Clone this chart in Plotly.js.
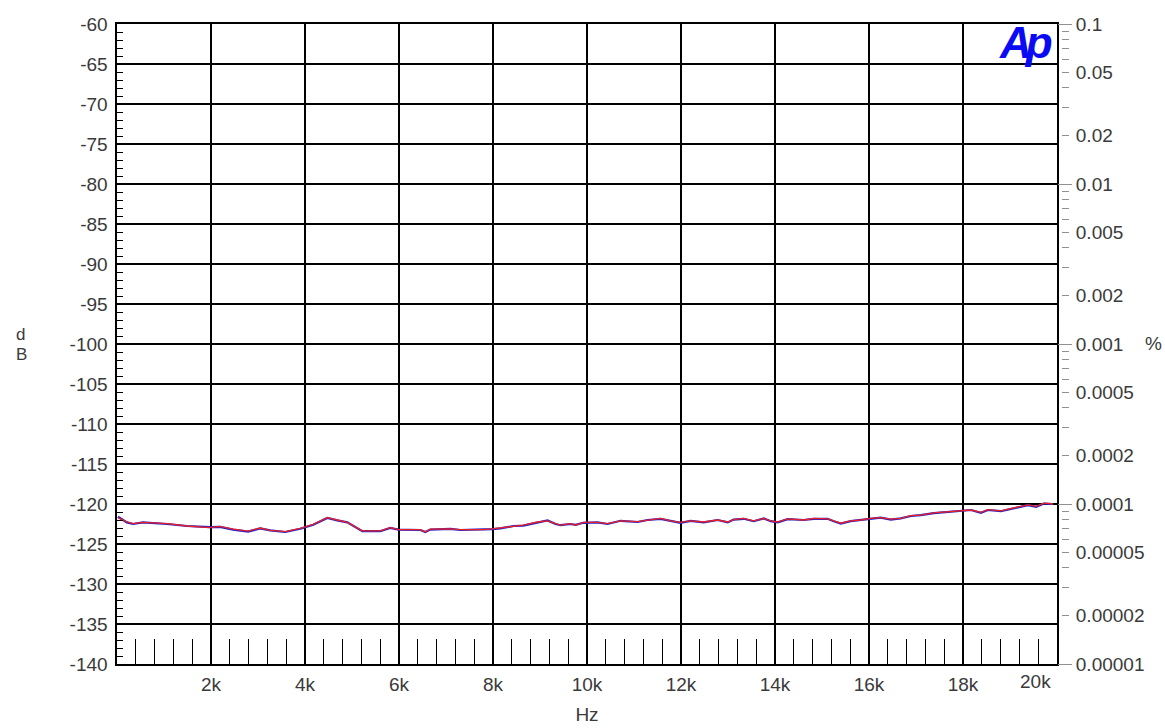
<!DOCTYPE html>
<html>
<head>
<meta charset="utf-8">
<script src="https://cdn.plot.ly/plotly-3.0.1.min.js"></script>
<style>
  html, body { margin: 0; padding: 0; background: #ffffff; }
  #chart { width: 1165px; height: 728px; }
</style>
</head>
<body>
<div id="chart"></div>
<script>
// THD+N sweep, two channels, 20 Hz - 20 kHz
const freqHz = [20, 210, 340, 550, 1065, 1490, 1980, 2190, 2470, 2790, 3045, 3260, 3580, 3900,
  4175, 4475, 4685, 4900, 5220, 5600, 5815, 5985, 6455, 6560, 6665, 7095, 7305, 7795, 7985,
  8160, 8435, 8645, 8945, 9160, 9330, 9435, 9650, 9755, 9925, 10225, 10435, 10715, 11075,
  11290, 11565, 11780, 11990, 12205, 12480, 12780, 12995, 13120, 13335, 13545, 13760, 13910,
  14060, 14270, 14610, 14825, 15120, 15250, 15400, 15610, 15825, 16040, 16250, 16465, 16675,
  16890, 17100, 17380, 17740, 17955, 18170, 18380, 18530, 18805, 19085, 19380, 19555, 19725, 19915];

const redDb = [-121.7, -122.25, -122.45, -122.3, -122.45, -122.75, -122.95, -122.8, -123.15, -123.4,
  -123.0, -123.3, -123.45, -123.05, -122.55, -121.7, -122.0, -122.3, -123.35, -123.35, -122.95,
  -123.2, -123.2, -123.5, -123.15, -123.1, -123.2, -123.2, -123.1, -123.0, -122.75, -122.65,
  -122.25, -122.1, -122.45, -122.65, -122.45, -122.65, -122.3, -122.3, -122.45, -122.1, -122.2,
  -122.0, -121.8, -122.1, -122.3, -122.1, -122.25, -122.0, -122.25, -121.95, -121.8, -122.1,
  -121.8, -122.1, -122.25, -121.85, -122.0, -121.8, -121.85, -122.1, -122.4, -122.1, -122.0,
  -121.8, -121.7, -121.9, -121.8, -121.45, -121.4, -121.1, -120.95, -120.8, -120.75, -121.05,
  -120.7, -120.85, -120.5, -120.1, -120.3, -119.9, -120.0];

const blueDb = [-121.6, -122.3, -122.5, -122.3, -122.5, -122.75, -122.9, -122.85, -123.2, -123.45,
  -123.05, -123.3, -123.5, -123.1, -122.6, -121.75, -122.05, -122.3, -123.4, -123.4, -123.0,
  -123.2, -123.25, -123.5, -123.2, -123.1, -123.25, -123.2, -123.15, -123.05, -122.75, -122.7,
  -122.3, -122.05, -122.5, -122.65, -122.5, -122.6, -122.35, -122.3, -122.5, -122.1, -122.25,
  -122.0, -121.85, -122.15, -122.35, -122.1, -122.3, -122.0, -122.3, -121.95, -121.85, -122.15,
  -121.8, -122.15, -122.3, -121.9, -122.0, -121.85, -121.85, -122.15, -122.45, -122.15, -122.0,
  -121.85, -121.7, -121.95, -121.8, -121.5, -121.4, -121.15, -120.95, -120.85, -120.75, -121.1,
  -120.75, -120.9, -120.5, -120.15, -120.35, -119.95, -120.0];

const xTickVals = [2000, 4000, 6000, 8000, 10000, 12000, 14000, 16000, 18000];
const xTickText = ['2k', '4k', '6k', '8k', '10k', '12k', '14k', '16k', '18k'];

const dbTickVals = [-140, -135, -130, -125, -120, -115, -110, -105, -100, -95, -90, -85, -80, -75, -70, -65, -60];
const dbTickText = ['-140', '-135', '-130', '-125', '-120', '-115', '-110', '-105', '-100', '-95', '-90', '-85', '-80', '-75', '-70', '-65', '-60'];

const pctDecades = [0.1, 0.01, 0.001, 0.0001, 0.00001];
const pctDecadeText = ['0.1', '0.01', '0.001', '0.0001', '0.00001'];
const pctMidVals = [0.05, 0.02, 0.005, 0.002, 0.0005, 0.0002, 0.00005, 0.00002];
const pctMidText = ['0.05', '0.02', '0.005', '0.002', '0.0005', '0.0002', '0.00005', '0.00002'];

// minor ticks of the % scale: 3,4,6,7,8,9 times each decade
const pctMinor = [];
[1e-5, 1e-4, 1e-3, 1e-2].forEach(d => [3, 4, 6, 7, 8, 9].forEach(m => pctMinor.push(+(m * d).toPrecision(2))));

const labelFont = { family: 'Liberation Sans, Arial, sans-serif', size: 19, color: '#3a3a3a' };
const titleFont = { family: 'Liberation Sans, Arial, sans-serif', size: 17, color: '#3a3a3a' };

const rightVals = pctMidVals.concat(pctMinor);
const rightText = pctMidText.concat(pctMinor.map(() => ''));

const traces = [
  { x: freqHz, y: blueDb, type: 'scatter', mode: 'lines', line: { color: '#2020c8', width: 2.2 }, hoverinfo: 'skip' },
  { x: freqHz, y: redDb, type: 'scatter', mode: 'lines', line: { color: '#e8202a', width: 1.3 }, hoverinfo: 'skip' },
  { x: [10000], y: [0.001], yaxis: 'y2', type: 'scatter', mode: 'markers', marker: { opacity: 0 }, hoverinfo: 'skip' },
  { x: [10000], y: [0.001], yaxis: 'y3', type: 'scatter', mode: 'markers', marker: { opacity: 0 }, hoverinfo: 'skip' }
];

const layout = {
  width: 1165, height: 728,
  margin: { l: 117, r: 108, t: 24, b: 64 },
  paper_bgcolor: '#ffffff', plot_bgcolor: '#ffffff',
  showlegend: false,
  font: labelFont,
  xaxis: {
    range: [0, 20000], fixedrange: true,
    tickmode: 'array', tickvals: xTickVals, ticktext: xTickText,
    ticks: 'inside', ticklen: 25, tickcolor: '#000', tickwidth: 1,
    minor: { dtick: 400, tick0: 0, ticks: 'inside', ticklen: 25, tickcolor: '#000', tickwidth: 1, showgrid: false },
    showgrid: true, gridcolor: '#000', gridwidth: 1.4,
    showline: true, linecolor: '#000', linewidth: 1.6, mirror: true,
    zeroline: false, tickfont: labelFont, ticklabelstandoff: 3,
    title: { text: 'Hz', font: labelFont, standoff: 13 }
  },
  yaxis: {
    range: [-140, -60], fixedrange: true,
    tickmode: 'array', tickvals: dbTickVals, ticktext: dbTickText,
    ticks: 'inside', ticklen: 6, tickcolor: '#000',
    minor: { dtick: 1, tick0: -140, ticks: 'inside', ticklen: 6, tickcolor: '#000', tickwidth: 1, showgrid: false },
    showgrid: true, gridcolor: '#000', gridwidth: 1.4,
    showline: true, linecolor: '#000', linewidth: 1.6, mirror: true,
    zeroline: false, tickfont: labelFont, ticklabelstandoff: 4
  },
  yaxis2: {
    type: 'log', range: [-5, -1], overlaying: 'y', side: 'right',
    anchor: 'free', position: 1, shift: 4, fixedrange: true,
    tickmode: 'array', tickvals: rightVals, ticktext: rightText,
    ticks: 'outside', ticklen: 7, tickcolor: '#909090', tickwidth: 1,
    showgrid: false, showline: false, zeroline: false,
    tickfont: labelFont, ticklabelstandoff: 3
  },
  yaxis3: {
    type: 'log', range: [-5, -1], overlaying: 'y', side: 'right',
    fixedrange: true,
    tickmode: 'array', tickvals: pctDecades, ticktext: pctDecadeText,
    ticks: 'outside', ticklen: 14, tickcolor: '#909090', tickwidth: 1,
    showgrid: false, showline: false, zeroline: false,
    tickfont: labelFont, ticklabelstandoff: 0
  },
  annotations: [
    { text: '20k', xref: 'x', yref: 'paper', x: 20000, y: 0, xanchor: 'right', yanchor: 'top',
      xshift: -4, yshift: -5, showarrow: false, font: labelFont },
    { text: 'd', xref: 'paper', yref: 'paper', x: -0.104, y: 0.5, xanchor: 'center', yanchor: 'middle',
      xshift: 1, yshift: 10, showarrow: false, font: titleFont },
    { text: 'B', xref: 'paper', yref: 'paper', x: -0.104, y: 0.5, xanchor: 'center', yanchor: 'middle',
      xshift: 2, yshift: -10, showarrow: false, font: titleFont },
    { text: '%', xref: 'paper', yref: 'paper', x: 1, y: 0.5, xanchor: 'center', yanchor: 'middle',
      xshift: 96, yshift: 1, showarrow: false, font: labelFont },
    { text: '<b><i><span style="letter-spacing:-6px">Ap</span></i></b>', xref: 'paper', yref: 'paper',
      x: 1, y: 1, xanchor: 'right', yanchor: 'top',
      xshift: -3, yshift: 8, showarrow: false,
      font: { family: 'Liberation Sans, Arial, sans-serif', size: 44, color: '#0a0af5' } }
  ]
};

Plotly.newPlot('chart', traces, layout, { staticPlot: true, displayModeBar: false });
</script>
</body>
</html>
